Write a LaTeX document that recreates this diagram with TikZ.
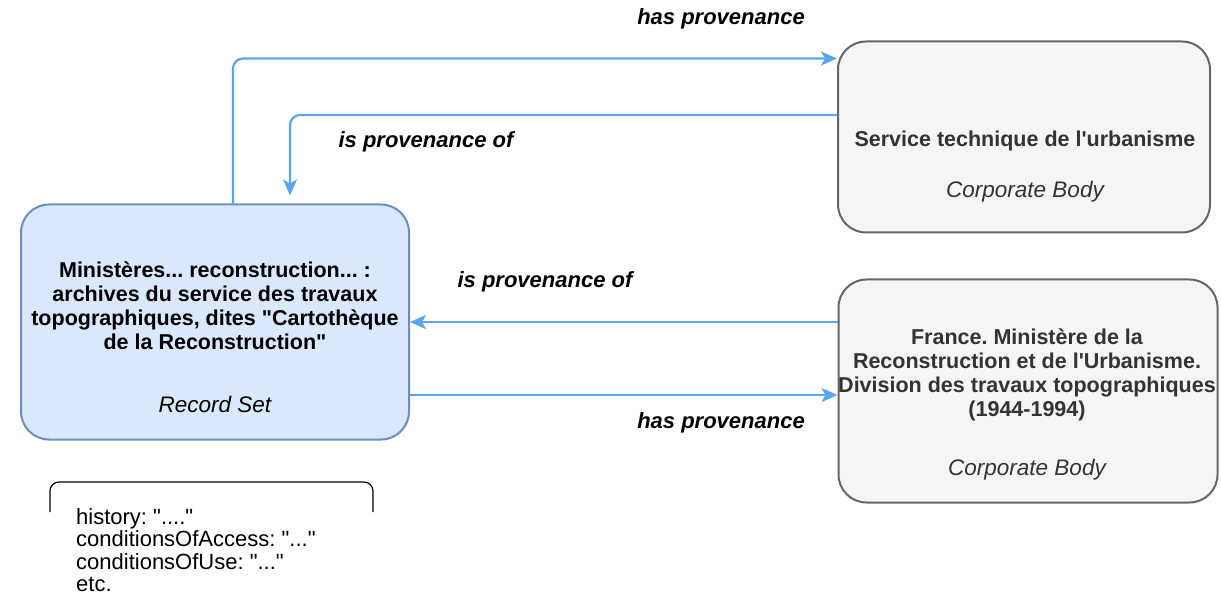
\documentclass[tikz,border=0pt]{standalone}
\usepackage{fontspec}
\setmainfont{Liberation Sans}[Ligatures=TeXOff]
\usetikzlibrary{arrows.meta}
\definecolor{relblue}{HTML}{5AA5EE}
\definecolor{recfill}{HTML}{DAE8FC}
\definecolor{recline}{HTML}{6C8EBF}
\definecolor{cbfill}{HTML}{F5F5F5}
\definecolor{cbline}{HTML}{666666}
\definecolor{cbtext}{HTML}{333333}
\frenchspacing
\begin{document}
\begin{tikzpicture}[x=1pt,y=-1pt,line join=round,
    recbox/.style={draw=recline,fill=recfill,line width=2pt,rounded corners=28pt},
    cbbox/.style={draw=cbline,fill=cbfill,line width=2pt,rounded corners=28pt},
    boxname/.style={align=center,inner sep=0pt,font=\fontsize{21.5}{24}\selectfont\bfseries},
    boxtype/.style={inner sep=0pt,font=\fontsize{22.5}{24}\selectfont\itshape},
    rellabel/.style={inner sep=0pt,font=\fontsize{22}{24}\selectfont\bfseries\itshape},
    rel/.style={draw=relblue,line width=2.2pt,rounded corners=10pt,-{Stealth[length=16pt,width=14pt,inset=4pt]}}]
  \useasboundingbox (0,0) rectangle (1221,601);
  % entities
  \node[recbox,minimum width=388pt,minimum height=235pt] (rec) at (215,322) {};
  \node[boxname] (recname) at (215,306) {Ministères... reconstruction... :\\archives du service des travaux\\topographiques, dites "Cartothèque\\de la Reconstruction"};
  \node[boxtype] (rectype) at (215,404) {Record Set};
  \node[cbbox,minimum width=372pt,minimum height=191pt] (svc) at (1024,137) {};
  \node[boxname,text=cbtext] (svcname) at (1025,141) {Service technique de l'urbanisme};
  \node[boxtype,text=cbtext] (svctype) at (1025,192) {Corporate Body};
  \node[cbbox,minimum width=379pt,minimum height=223pt] (fra) at (1028,391) {};
  \node[boxname,text=cbtext] (franame) at (1027,375) {France. Ministère de la\\Reconstruction et de l'Urbanisme.\\Division des travaux topographiques\\(1944-1994)};
  \node[boxtype,text=cbtext] (fratype) at (1027,470) {Corporate Body};
  % relations
  \draw[rel] ([xshift=18pt]rec.north) |- ([yshift=-18pt]svc.north west);
  \draw[rel] ([yshift=22pt]svc.west) -| ([xshift=75pt,yshift=8pt]rec.north);
  \draw[rel] (fra.west |- rec.east) -- (rec.east);
  \draw[rel] ([yshift=-73pt]rec.east) -- ([yshift=-73pt]rec.east -| fra.west);
  \node[rellabel] (lbl1) at (721,19) {has provenance};
  \node[rellabel] (lbl2) at (426,142) {is provenance of};
  \node[rellabel] (lbl3) at (545,282) {is provenance of};
  \node[rellabel] (lbl4) at (721,423) {has provenance};
  % attributes
  \draw[line width=1.2pt,rounded corners=9pt] (50,512) -- (50,482) -- (373,482) -- (373,512);
  \node[anchor=north west,align=left,inner sep=0pt,font=\fontsize{22}{22.5}\selectfont] (attrs) at (76,508) {history: "...."\\conditionsOfAccess: "..."\\conditionsOfUse: "..."\\etc.};
\end{tikzpicture}
\end{document}
